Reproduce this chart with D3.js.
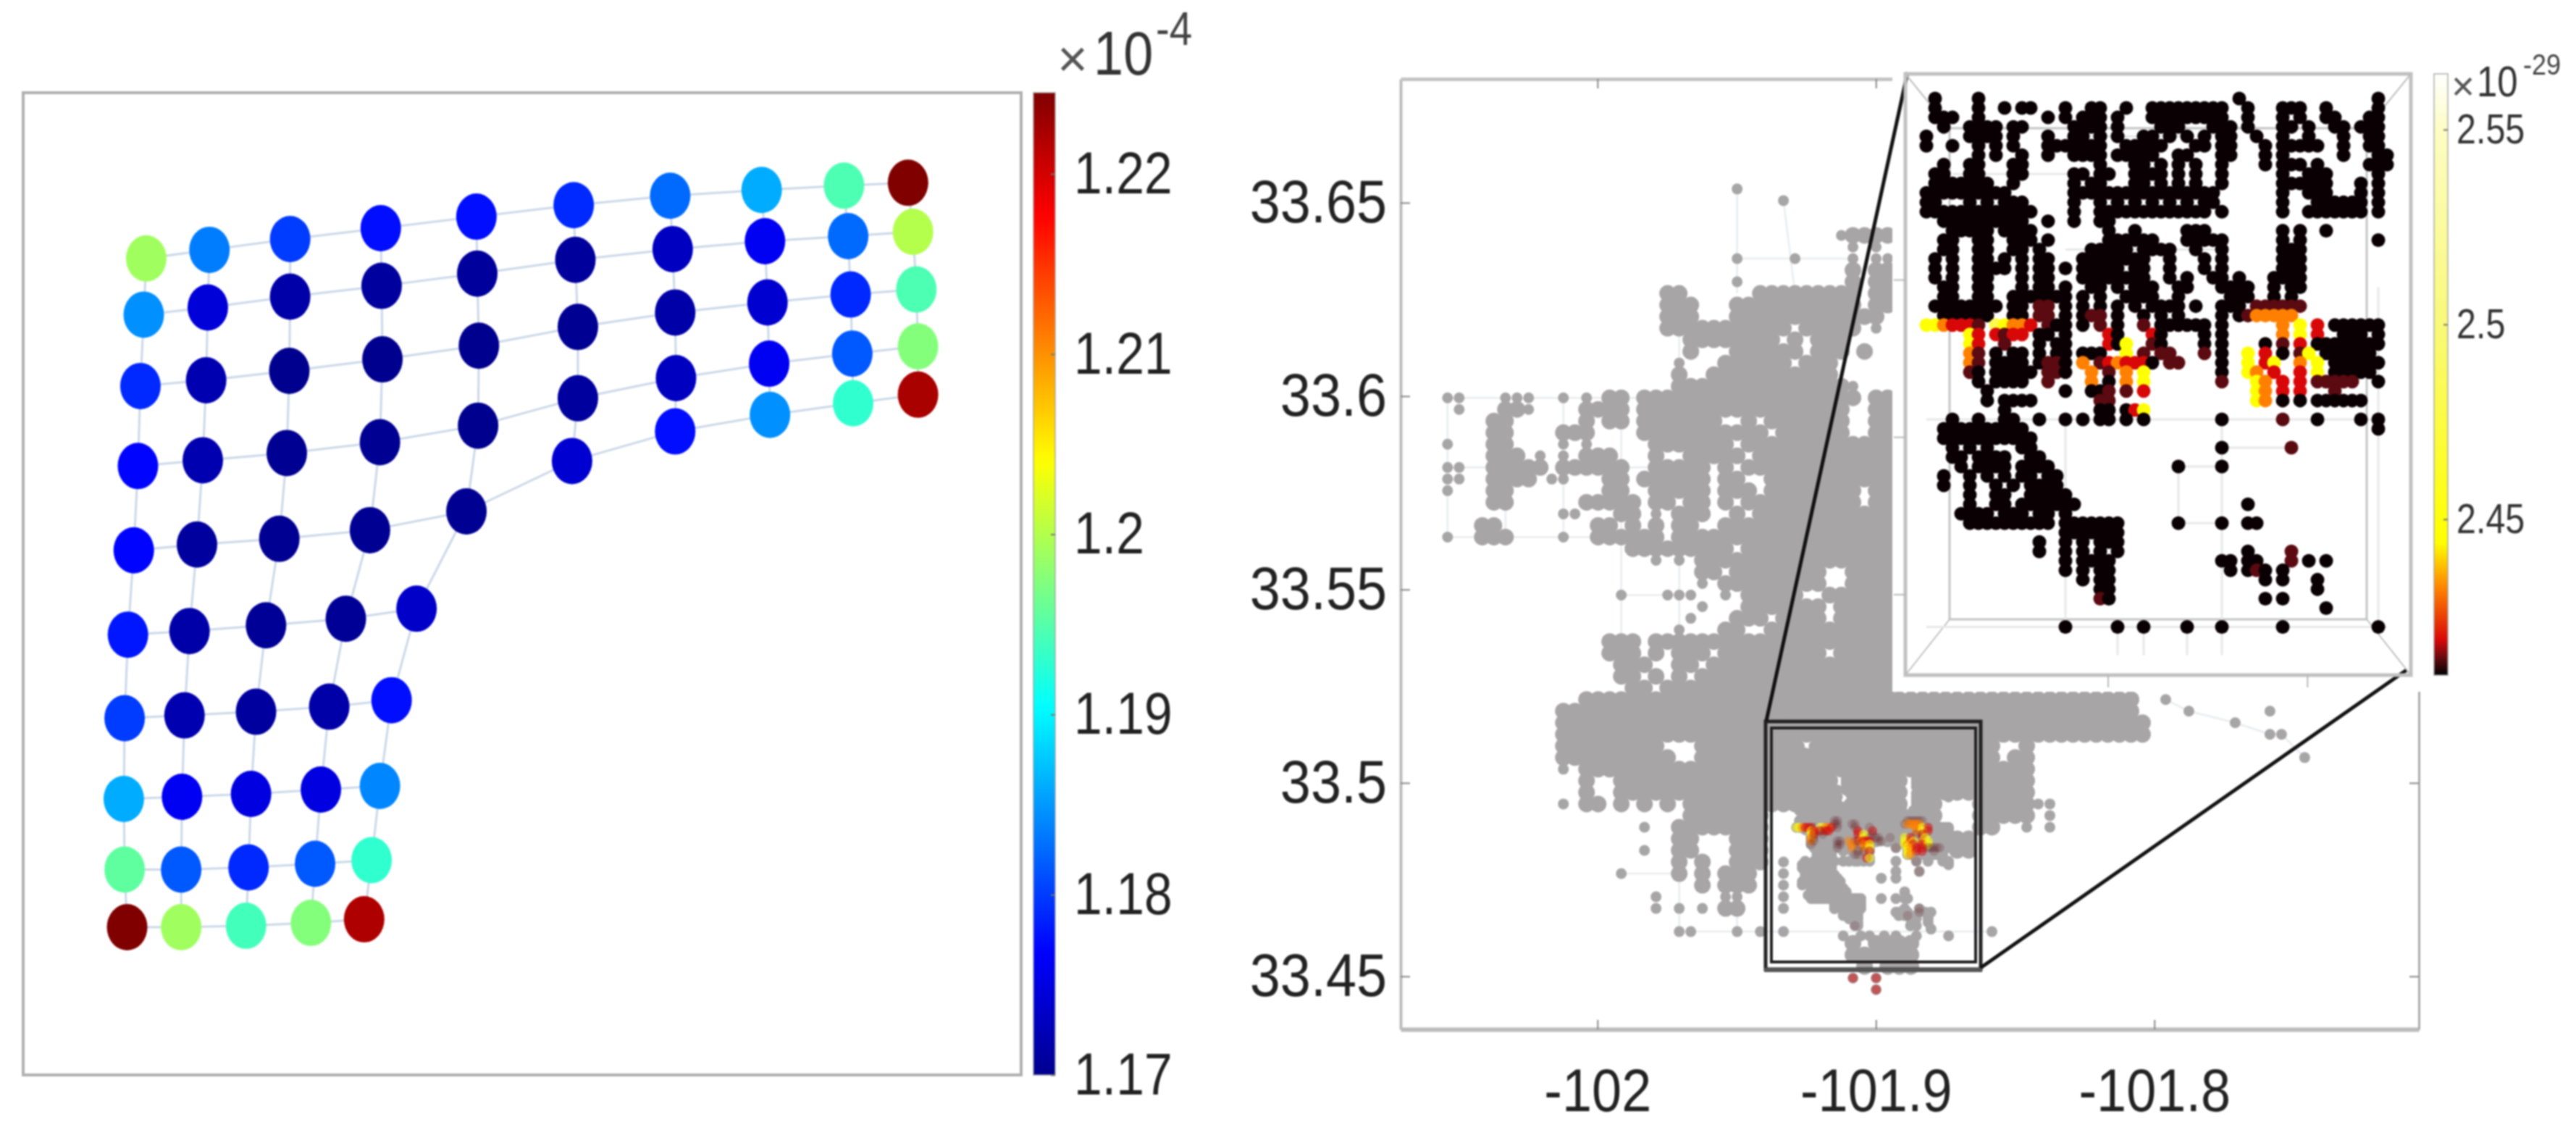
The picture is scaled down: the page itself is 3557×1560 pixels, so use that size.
<!DOCTYPE html>
<html>
<head>
<meta charset="utf-8">
<script src="https://cdn.jsdelivr.net/npm/d3@7"></script>
<style>
html,body{margin:0;padding:0;background:#fff;}
text{font-family:"Liberation Sans",Arial,sans-serif;}
</style>
</head>
<body>
<script>
//left panel: graph nodes, one row per array, in the panel's own units
const nodeX=[
[176,252,349,458,573,690,806,916,1015,1092],
[173,250,349,459,574,692,809,920,1020,1098],
[169,248,348,460,576,695,812,923,1023,1102],
[166,244,345,457,575,695,813,925,1025,1104],
[161,237,336,445,561,688,812,926,1026,1104],
[154,228,320,416,501],
[150,222,308,396,471],
[149,219,302,386,457],
[150,218,299,379,447],
[153,218,296,374,438]
];
const nodeY=[
[360,348,333,318,302,286,273,265,259,255],
[438,428,413,398,381,362,347,336,329,323],
[537,529,516,500,481,455,435,421,410,403],
[648,640,630,615,592,554,526,506,492,482],
[765,757,749,737,711,641,600,577,561,549],
[882,877,869,860,846],
[998,994,989,982,973],
[1110,1107,1103,1097,1092],
[1208,1208,1205,1200,1195],
[1288,1288,1286,1282,1277]
];
const nodeValue=[
[1.199,1.1835,1.180,1.1775,1.1775,1.179,1.1825,1.186,1.1945,1.2245],
[1.1845,1.1745,1.1715,1.171,1.1708,1.1708,1.173,1.176,1.1825,1.200],
[1.179,1.172,1.170,1.170,1.170,1.1702,1.1715,1.174,1.179,1.1945],
[1.177,1.172,1.1702,1.1702,1.170,1.171,1.173,1.176,1.1815,1.1975],
[1.177,1.171,1.1702,1.1702,1.1702,1.174,1.1775,1.1845,1.193,1.2223],
[1.178,1.1715,1.1705,1.1705,1.1735],
[1.180,1.172,1.171,1.1715,1.1775],
[1.186,1.176,1.175,1.175,1.184],
[1.1955,1.1815,1.179,1.1815,1.193],
[1.2245,1.199,1.194,1.1975,1.222]
];
const jetTicks=[1.17,1.18,1.19,1.2,1.21,1.22];

//right panel: street network, one string per row of the street grid
//# packed dots, o single dots, r dots with a heat tint
const cityRows=[
".......... .......... .....o....",
".......... .......... .........o",
"",
"",
".......... .......... .......... ....o####.",
".......... .......... .......... .....o.o..",
".......... .......... .....o.... o....o.oo.",
".......... .......... .......... .....#.##.",
".......... .......... .....o.... .....#.##.",
".......... .........# #......### ######.##.",
".......... .........# ##...##### ######.##.",
".......... .........# ##...##### ########..",
".......... .........# ########## .#####.o..",
".......... .......... .########. #.###.....",
".......... .......... .#...##### #.###.#...",
".......... .......... o...###### .###......",
".......... .......... #..####### ####......",
".......... .......... ########## #####o....",
"oo...ooo.. o.o.##.### ########## ######.##.",
".o...##o.. ..####.### ########## #####..##.",
"....##.... ..#.##.### ####..#.## #####..##.",
"....##.... ###....### ########.# #####..###",
"o...##.... o.o.....## #####.#### #########.",
"....###.o. o.###...#. .#####.### #########.",
"oo..#####. ######..## ###.#.#### #########.",
"oo..####.o o...##.### ###.##..## #########.",
"o...##.... ....##..## ###.###.## ######.##.",
"....##.... ..#####.## .##.#.#### ######.##.",
".......... oo...##.o. ###..#.### #########.",
"...##..... ...##.#.#. ##..###### #########.",
"o..###.... o..######. ########## #########.",
".......... ......#### #####.#### #########.",
".......... ........o. o.######## #########.",
".......... .......... ..##.##### ###..####.",
".......... .......... ..o.###### ###..####.",
".......... .....o...o oo..o.#### #..######.",
".......... .......... ..o...#### ###.#####.",
".......... .......... .o...###.# ###.#####.",
".......... .......... o...##..## #########.",
".......... ....###.## ########## #########.",
".......... ....###.#. ###.###### ###.#####.",
".......... .....###.. ##.####### #########.",
".......... .....##.#. #.######## #########.",
".......... ......##.# ########## #########.",
".......... ..######## ########## ########## ########## ########## ..o....... .....",
".......... ########## ########## ########## ########## ########## ....o..... .o...",
".......... ########## ########## ########## ########## ########## #.......o. .....",
".......... ########## ########## ########## ########## ########## #......... .oo..",
".......... #########. ..######## #.######## ########.. #......... .......... .....",
".......... ########## ..######## #.######## ########.# #......... .......... ....o",
".......... o.######## ########## #.######## ########## #.........",
".......... ..#..##### ########## ####.##### .######### #.........",
".......... ..#..##### ########## ####.##### .######### #.........",
".......... o.##.#.#.# .######### ####.##### .##...#### #oo.......",
".......... .......... .#######.. .######### .##...#### #.o.......",
".......... .......o.. ########.. .######### ###...##.. o.o.......",
".......... .......... ##...###.. ..######## ###.##....",
".......... .......o.. ##...###.. .......... ....##....",
".......... .......... #.#..###.o",
".......... .....o.... #.#.###..o",
".......... .......... ..#.###..o",
".......... ........o. ....oo...o",
".......... ........o. o.o.##...o",
"",
".......... .......... oo...o.o.o .......... .......o..",
".......... .......... .......... .....#.### #.........",
".......... .......... .......... .....##### #.........",
".......... .......... .......... ......#.## #.........",
".......... .......... .......... .....r.r..",
".......... .......... .......... .......r.."
];
//faint street lines in the same grid: col,row to col,row
const cityEdges=[
[0,18,17,18],[0,18,0,30],[0,24,4,24],[10,24,12,24],[15,24,18,24],[0,30,13,30],
[5,24,5,30],[10,18,10,30],[15,18,15,39],[15,35,20,35],[20,30,20,38],[20,12,20,18],
[25,0,25,9],[29,1,30,9],[25,6,35,6],[20,64,47,64],[20,55,20,64],[25,59,25,64],
[15,59,20,59],[62,44,64,45],[64,45,68,46],[68,46,71,47],[71,47,72,47],[72,47,74,49]
];
const cityLonStart=-102.05384, cityLonStep=0.00416;
const cityLatStart=33.65356, cityLatStep=0.003;

//inset dots: # cold, d r o y w rising heat
const insetRows=[
".#....#... .......... .......... ......#... .......... ..#.",
".#....#..# .##...#..# #..#..#### #####..#.. .###..#... ..#.",
".###..#... ....#.#.## #.#...#### #####..#.. .#.#..##.. .##.",
"..#..####. ##.....### #.#....### ...###.#.. .##.#..##. ###.",
"#....####. #...#..##. #.#..##.#. #.#.##..#. .#..#...#. .##.",
"#..#..#.#. #...###### #..#####.. .##.##...# .#####..#. .##.",
"......#.#. .#..#..### #.#####..# #...##...# .#......#. ..##",
"..#..##... ##........ #...##.#.# .#..#....# .###.#.... .###",
".##..##... ##.....##. ##..####.# .#..#..... .#..###... ..#.",
".#######.. #......#.# #...##.#.# .#..#..... .######... #.#.",
"########## .......### ########## ####...... .#..###... #.#.",
"##...#.#.# ##.....#.. #.#.#.#.#. #.##...... .#...##### #.#.",
"########## ###....#.. ########## ###.#..... .#..###### #.#.",
"..######## ##..#..#.. ##........ .......... .......... ....",
"...#####.# ###....... .#..#..... ###....... .#.#..#... ....",
"..##..##.. ###.#..... .######... #####..... .#.#...... ..#.",
"..##..##.. ##.#.....# ####.####. .#..#..... .###...... ....",
".#.#..##.# .#.##...## ######..#. ..#.#..... .###...... ....",
".#.#..#### .#.##.#.## ###.##..#. ..#.#..... .###...... ....",
".#.#..##.. .#.##...## ######..#. #..##.#... ####...... ....",
"..##..##.. .#.##.#..# #.#.###..# #...####.. #.##...... ....",
"..##..##.. #######.#. #..####..# .....###.. #.#....... ....",
".########. ##.dd.#.#. #.#.#.#### .#..###.dd dddd...... ....",
"..######.. ##.dd.#.#d d.#..#.#.# ....#.#doo ooo....... ....",
"yyorrrd.wy oor.d##.#. d.#..d.### ###.#..... .o.y.r.### ###.",
".....yr.rd rr.##.#... .r#...r#.. ..#.#..... .o.y.r..## #.#.",
".....yr..d ...#.##... .r#y..d#.. ..#.#....# .d.r.##### ###.",
".....od.#. ##.#.##.## #..y.d.dd. ..d.#..y.r .#.dy.#### ##..",
".....od.## ##.#dd#.o. drorrr#.dd ....#..y.r y..o.y.### ###.",
".....d#.## ###.dd#..o .d.o.y.... ....#..yo. r..r.y.### ##..",
"......#.## ##..d....o .#.o.y.... ....d...yo .r.r.ddddd ..#.",
".......#.. ......#..# #d.d.r.... ........yo .r.r...d.. ....",
".......#.# ###....... dd........ ........yo .#.#.##### #...",
".........# .......... ##.#ry.... .......... .......... ....",
"...#..#..# #..#..#.#. ##.#.#.... ....#..... .d...#.... #.#.",
"..######## ##........ .......... .......... .......... ..#.",
"..######## ###....... .......... .......... .......... ....",
"...#.#.#.. .##....... .......... ....#..... ..d....... ....",
"...##.#### ..##...... .......... .......... .......... ....",
"....#.#### .####..... .........# ....#..... .......... ....",
"..#..#.#.# .##.##.... .......... .......... .......... ....",
"..#..#..#. #.####.... .......... .......... .......... ....",
".....#..## ..#####... .......... .......... .......... ....",
".....#..## .#######.. .......... .......#.. .......... ....",
"....####.# ##.##.#... .......... .......... .......... ....",
".....##### #####.#### ###......# ....#..##. .......... ....",
".......... ......#### ###....... .......... .......... ....",
".......... ...#..#.#. ###....... .......... .......... ....",
".......... ...#..#.#. #.#....... .......#.. ..d....... ....",
".......... ......#.## ##........ ....##.##. ..d.#.#... ....",
".......... ......#.#. ##........ .....#.#d# .#........ ....",
".......... ........#. ##........ .........# .#...#.... ....",
".......... .......... ##........ .......... .....#.... ....",
".......... .......... d#........ .........# .#........ ....",
".......... .......... .......... .......... ......#... ....",
"",
".......... ......#... ..#..#.... #...#..... .#........ ..#."
];
const insetEdges=[
[0,34,52,34],[0,56,53,56],[16,34,16,56],[34,34,34,56],[29,39,29,45],[29,39,34,39],
[34,37,42,37],[29,45,34,45],[22,56,22,59],[25,56,25,59],[30,56,30,59],[34,56,34,59],
[52,20,52,56],[3,8,17,8],[18,4,30,4],[16,16,34,16]
];
const insetLonStart=-101.92854, insetLonStep=0.0010508;
const insetLatStart=33.50951, insetLatStep=0.0008757;
const heatValue={d:2.414,r:2.419,o:2.432,y:2.446,w:2.48};

const lonTicks=[-102,-101.9,-101.8];
const latTicks=[33.45,33.5,33.55,33.6,33.65];
const insetLonTicks=[-101.9066,-101.8825];
const insetLatTicks=[33.4927,33.4781,33.4635];
const heatTicks=[2.45,2.5,2.55];

const W=3557,H=1560;
//the source figure is a soft, enlarged bitmap
const svg=d3.select("body").append("svg").attr("width",W).attr("height",H)
    .style("display","block").style("filter","blur(1.1px)");
const defs=svg.append("defs");

//squeeze labels sideways, the source figure was stretched
function squeeze(sel,k){
    sel.each(function(){
        const len=this.getComputedTextLength();
        d3.select(this).attr("textLength",len*k).attr("lengthAdjust","spacingAndGlyphs");
    });
}
function label(x,y,txt,size,k,col){
    const t=svg.append("text").attr("x",x).attr("y",y).attr("font-size",size)
        .attr("fill",col||"#222").text(txt);
    squeeze(t,k);
    return t;
}

//----------------- left panel -----------------
const jetMin=1.17,jetMax=1.2245;
const jetStops=[0,0.125,0.375,0.625,0.875,1];
const jet=d3.scaleLinear()
    .domain(jetStops.map(t=>jetMin+t*(jetMax-jetMin)))
    .range(["#00008f","#0000ff","#00ffff","#ffff00","#ff0000","#800000"]);

const leftBox={x0:32,x1:1410,y0:128,y1:1484};
const nx=d3.scaleLinear().domain([28,1228]).range([leftBox.x0,leftBox.x1]);
const ny=d3.scaleLinear().domain([130,1493]).range([leftBox.y0,leftBox.y1]);

svg.append("rect").attr("x",leftBox.x0).attr("y",leftBox.y0)
    .attr("width",leftBox.x1-leftBox.x0).attr("height",leftBox.y1-leftBox.y0)
    .attr("fill","#fff").attr("stroke","#b0b0b0").attr("stroke-width",4);

const nodes=[],links=[];
nodeX.forEach((row,i)=>row.forEach((x,j)=>{
    nodes.push({x:x,y:nodeY[i][j],v:nodeValue[i][j]});
    if(j>0) links.push([x,nodeY[i][j],row[j-1],nodeY[i][j-1]]);
    if(i>0&&j<nodeX[i-1].length) links.push([x,nodeY[i][j],nodeX[i-1][j],nodeY[i-1][j]]);
}));
svg.append("g").selectAll("line").data(links).enter().append("line")
    .attr("x1",d=>nx(d[0])).attr("y1",d=>ny(d[1]))
    .attr("x2",d=>nx(d[2])).attr("y2",d=>ny(d[3]))
    .attr("stroke","#cbd8e8").attr("stroke-width",3);
svg.append("g").selectAll("ellipse").data(nodes).enter().append("ellipse")
    .attr("cx",d=>nx(d.x)).attr("cy",d=>ny(d.y)).attr("rx",28).attr("ry",32)
    .attr("fill",d=>jet(d.v));

//colorbar helper, used for both bars
function colorbar(id,scale,vmin,vmax,x,w,y0,y1,ticks,pad,size,k,tickCol){
    const grad=defs.append("linearGradient").attr("id",id)
        .attr("x1",0).attr("x2",0).attr("y1",1).attr("y2",0);
    d3.range(0,1.001,0.01).forEach(t=>{
        grad.append("stop").attr("offset",t)
            .attr("stop-color",scale(vmin+t*(vmax-vmin)));
    });
    svg.append("rect").attr("x",x).attr("y",y0).attr("width",w).attr("height",y1-y0)
        .attr("fill","url(#"+id+")").attr("stroke","#999").attr("stroke-opacity",0.6)
        .attr("stroke-width",2);
    const yScale=d3.scaleLinear().domain([vmin,vmax]).range([y1,y0]);
    const ax=svg.append("g").attr("transform","translate("+(x+w)+",0)")
        .call(d3.axisRight(yScale).tickValues(ticks).tickSize(-6).tickPadding(pad).tickFormat(d=>String(d)));
    ax.select(".domain").remove();
    ax.selectAll(".tick line").attr("stroke","#777").attr("stroke-width",2);
    ax.selectAll("text").attr("font-size",size).attr("fill",tickCol);
    squeeze(ax.selectAll("text"),k);
}
colorbar("jetbar",jet,jetMin,jetMax,1427,30,128,1484,jetTicks,26,82,0.85,"#222");

label(1460,106,"\u00d7",72,1,"#555");
label(1510,103,"10",85,0.87,"#333");
label(1596,62,"-4",65,0.87,"#444");

//----------------- right panel -----------------
const mainBox={x0:1934,x1:3340,y0:109,y1:1421};
const lon=d3.scaleLinear().domain([-102.0707,-101.705]).range([mainBox.x0,mainBox.x1]);
const lat=d3.scaleLinear().domain([33.4363,33.682]).range([mainBox.y1,mainBox.y0]);

const hotMin=2.41,hotMax=2.5643;
const hot=d3.scaleLinear()
    .domain([2.41,2.414,2.419,2.432,2.444,2.5,2.55,2.5643])
    .range(["#000000","#5a0a10","#d80808","#ff8000","#ffff00","#f9f97a","#fdfdc4","#ffffff"]);

const gray="#a8a5a6";
//grid strings to points
function gridPoints(rows,lon0,dLon,lat0,dLat){
    const pts=[];
    rows.forEach((row,r)=>{
        row.replace(/ /g,"").split("").forEach((ch,c)=>{
            if(ch!==".") pts.push({lon:lon0+c*dLon,lat:lat0-r*dLat,ch:ch});
        });
    });
    return pts;
}
const cityPts=gridPoints(cityRows,cityLonStart,cityLonStep,cityLatStart,cityLatStep);
const insetPts=gridPoints(insetRows,insetLonStart,insetLonStep,insetLatStart,insetLatStep);

//street lines under the dots
svg.append("g").selectAll("line").data(cityEdges).enter().append("line")
    .attr("x1",d=>lon(cityLonStart+d[0]*cityLonStep)).attr("y1",d=>lat(cityLatStart-d[1]*cityLatStep))
    .attr("x2",d=>lon(cityLonStart+d[2]*cityLonStep)).attr("y2",d=>lat(cityLatStart-d[3]*cityLatStep))
    .attr("stroke","#ebeff2").attr("stroke-width",3);

svg.append("g").selectAll("circle").data(cityPts).enter().append("circle")
    .attr("cx",d=>lon(d.lon)).attr("cy",d=>lat(d.lat))
    .attr("r",d=>d.ch==="#"?11.5:7.5)
    .attr("fill",gray);
svg.append("g").selectAll("circle").data(insetPts).enter().append("circle")
    .attr("cx",d=>lon(d.lon)).attr("cy",d=>lat(d.lat)).attr("r",7.5)
    .attr("fill",gray);
//heat shows through the gray on the map
svg.append("g").selectAll("circle")
    .data(insetPts.filter(d=>d.ch!=="#").concat(cityPts.filter(d=>d.ch==="r"))).enter().append("circle")
    .attr("cx",d=>lon(d.lon)).attr("cy",d=>lat(d.lat)).attr("r",6.5)
    .attr("fill",d=>hot(heatValue[d.ch])).attr("opacity",d=>d.ch==="d"?0.18:0.5);

//axes of the map, ticks inward on all four sides
const axB=svg.append("g").attr("transform","translate(0,"+mainBox.y1+")")
    .call(d3.axisBottom(lon).tickValues(lonTicks).tickSizeInner(-13).tickSizeOuter(0).tickPadding(53).tickFormat(d=>String(d)));
const axL=svg.append("g").attr("transform","translate("+mainBox.x0+",0)")
    .call(d3.axisLeft(lat).tickValues(latTicks).tickSizeInner(-13).tickSizeOuter(0).tickPadding(19).tickFormat(d=>String(d)));
const axT=svg.append("g").attr("transform","translate(0,"+mainBox.y0+")")
    .call(d3.axisTop(lon).tickValues(lonTicks).tickSizeInner(-13).tickSizeOuter(0).tickFormat(""));
const axR=svg.append("g").attr("transform","translate("+mainBox.x1+",0)")
    .call(d3.axisRight(lat).tickValues(latTicks).tickSizeInner(-13).tickSizeOuter(0).tickFormat(""));
[axB,axL,axT,axR].forEach(a=>{
    a.selectAll(".tick line").attr("stroke","#888").attr("stroke-width",2);
    a.selectAll("text").attr("font-size",84).attr("fill","#222");
});
axB.select(".domain").attr("stroke","#bbb").attr("stroke-width",6);
axT.select(".domain").attr("stroke","#c4c4c4").attr("stroke-width",5);
axL.select(".domain").attr("stroke","#bbb").attr("stroke-width",4);
axR.select(".domain").attr("stroke","#aaa").attr("stroke-width",3);
squeeze(axB.selectAll("text"),0.88);
squeeze(axL.selectAll("text"),0.9);

//the box on the map that the inset enlarges
svg.append("rect").attr("x",2438).attr("y",996).attr("width",297).attr("height",342)
    .attr("fill","none").attr("stroke","#222").attr("stroke-width",5);
svg.append("rect").attr("x",2446).attr("y",1005).attr("width",282).attr("height",323)
    .attr("fill","none").attr("stroke","#222").attr("stroke-width",4);
svg.append("line").attr("x1",2436).attr("x2",2737).attr("y1",1339).attr("y2",1339)
    .attr("stroke","#555").attr("stroke-width",6);

//white sheet behind the inset
svg.append("rect").attr("x",2613).attr("y",0).attr("width",W-2613).attr("height",955).attr("fill","#fff");

//zoom lines
[[2439,995,2634,100],[2735,1336,3323,925]].forEach(d=>{
    svg.append("line").attr("x1",d[0]).attr("y1",d[1]).attr("x2",d[2]).attr("y2",d[3])
        .attr("stroke","#111").attr("stroke-width",5);
});

//----------------- inset -----------------
const inBox={x0:2631,x1:3329,y0:102,y1:932};
const back={x0:2692,x1:3268,y0:177,y1:855};
const ix=d3.scaleLinear().domain([-101.93108,-101.86996]).range([inBox.x0,inBox.x1]);
const iy=d3.scaleLinear().domain([33.4560,33.5118]).range([inBox.y1,inBox.y0]);

const insetFrame=svg.append("g").attr("fill","none");
insetFrame.append("rect").attr("x",inBox.x0).attr("y",inBox.y0)
    .attr("width",inBox.x1-inBox.x0).attr("height",inBox.y1-inBox.y0)
    .attr("stroke","#c0c0c0").attr("stroke-width",5);
insetFrame.append("rect").attr("x",back.x0).attr("y",back.y0)
    .attr("width",back.x1-back.x0).attr("height",back.y1-back.y0)
    .attr("stroke","#c4c4c4").attr("stroke-width",3);
[[inBox.x0,inBox.y0,back.x0,back.y0],[inBox.x1,inBox.y0,back.x1,back.y0],
 [inBox.x0,inBox.y1,back.x0,back.y1],[inBox.x1,inBox.y1,back.x1,back.y1]].forEach(d=>{
    insetFrame.append("line").attr("x1",d[0]).attr("y1",d[1]).attr("x2",d[2]).attr("y2",d[3])
        .attr("stroke","#c0c0c0").attr("stroke-width",2);
});
const inB=svg.append("g").attr("transform","translate(0,"+inBox.y1+")")
    .call(d3.axisBottom(ix).tickValues(insetLonTicks).tickSizeInner(17).tickSizeOuter(0).tickFormat(""));
const inL=svg.append("g").attr("transform","translate("+inBox.x0+",0)")
    .call(d3.axisLeft(iy).tickValues(insetLatTicks).tickSizeInner(16).tickSizeOuter(0).tickFormat(""));
[inB,inL].forEach(a=>{
    a.select(".domain").remove();
    a.selectAll(".tick line").attr("stroke","#b8b8b8").attr("stroke-width",2);
});

svg.append("g").selectAll("line").data(insetEdges).enter().append("line")
    .attr("x1",d=>ix(insetLonStart+d[0]*insetLonStep)).attr("y1",d=>iy(insetLatStart-d[1]*insetLatStep))
    .attr("x2",d=>ix(insetLonStart+d[2]*insetLonStep)).attr("y2",d=>iy(insetLatStart-d[3]*insetLatStep))
    .attr("stroke","#e8e8e8").attr("stroke-width",3);

svg.append("g").selectAll("circle").data(insetPts).enter().append("circle")
    .attr("cx",d=>ix(d.lon)).attr("cy",d=>iy(d.lat)).attr("r",9.5)
    .attr("fill",d=>d.ch==="#"?"#0a0004":hot(heatValue[d.ch]));

colorbar("hotbar",hot,hotMin,hotMax,3361,19,102,932,heatTicks,12,57,0.85,"#333");

label(3385,138,"\u00d7",55,1,"#555");
label(3420,133,"10",60,0.85,"#333");
label(3484,103,"-29",40,0.9,"#444");
</script>
</body>
</html>
